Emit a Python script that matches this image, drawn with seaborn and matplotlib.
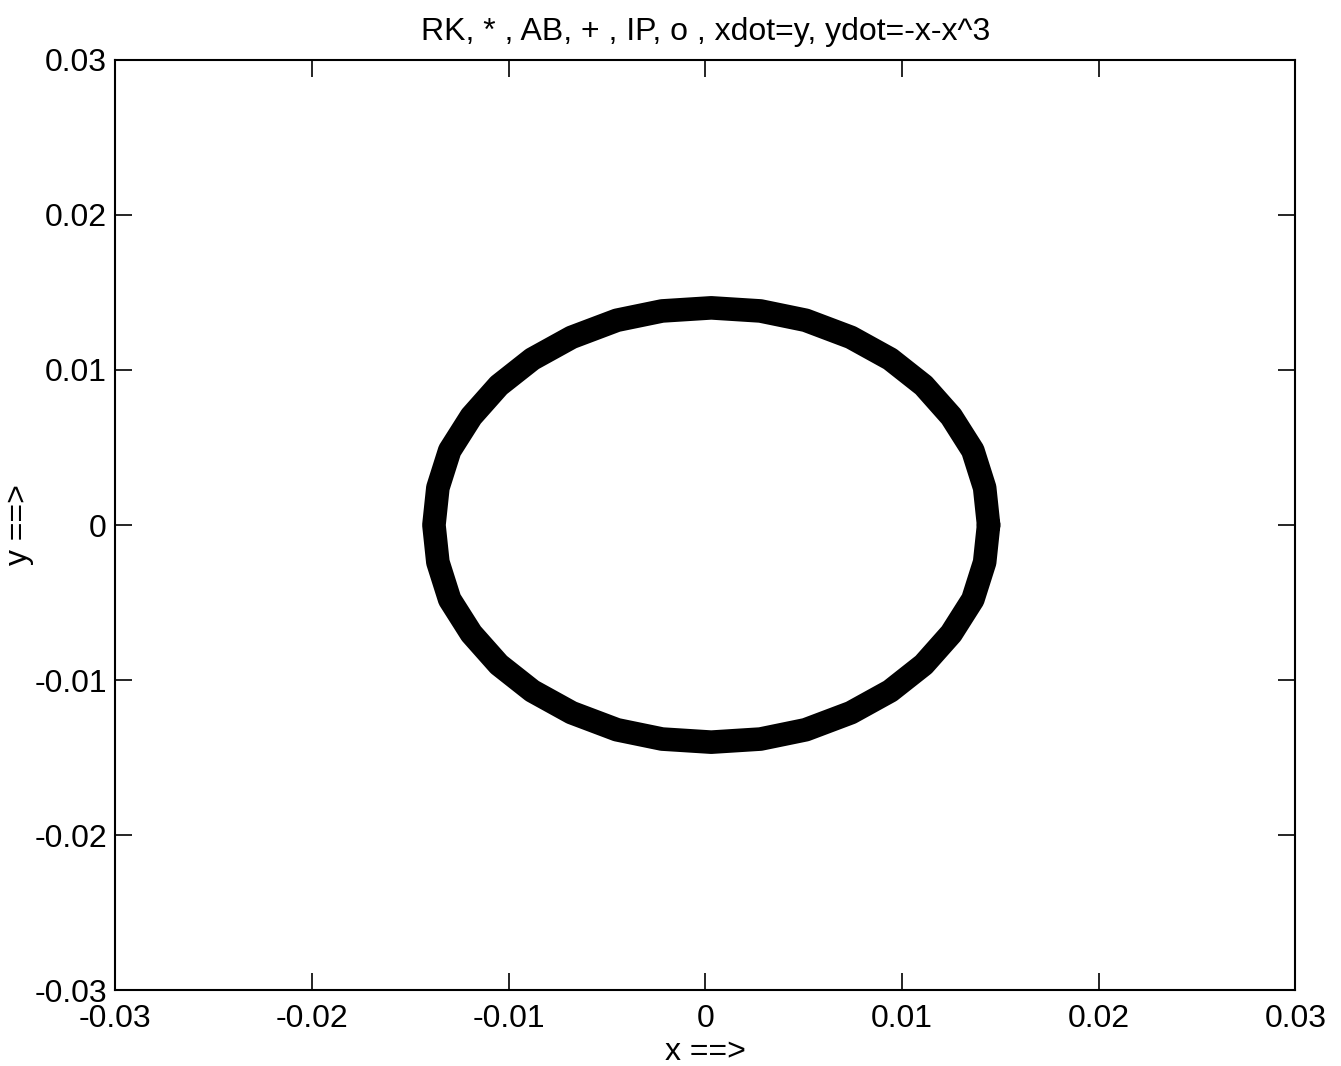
import numpy as np
import pandas as pd
import matplotlib
matplotlib.use('Agg')
import matplotlib.pyplot as plt
import seaborn as sns

# ---------- data (centre line of the thick orbit) ----------
orbit_x = [0.0144, 0.0142, 0.0136, 0.0125, 0.0111, 0.0094, 0.0074, 0.0051, 0.0028,
           0.0003, -0.0022, -0.0045, -0.0068, -0.0088, -0.0105, -0.0119, -0.0130, -0.0136,
           -0.0138, -0.0136, -0.0130, -0.0119, -0.0105, -0.0088, -0.0068, -0.0045, -0.0022,
           0.0003, 0.0028, 0.0051, 0.0074, 0.0094, 0.0111, 0.0125, 0.0136, 0.0142, 0.0144]
orbit_y = [0.0000, 0.0024, 0.0048, 0.0070, 0.0090, 0.0107, 0.0121, 0.0132, 0.0138,
           0.0140, 0.0138, 0.0132, 0.0121, 0.0107, 0.0090, 0.0070, 0.0048, 0.0024,
           0.0000, -0.0024, -0.0048, -0.0070, -0.0090, -0.0107, -0.0121, -0.0132, -0.0138,
           -0.0140, -0.0138, -0.0132, -0.0121, -0.0107, -0.0090, -0.0070, -0.0048, -0.0024, 0.0000]

tick_vals = [-0.03, -0.02, -0.01, 0, 0.01, 0.02, 0.03]
tick_labels = ['-0.03', '-0.02', '-0.01', '0', '0.01', '0.02', '0.03']

df = pd.DataFrame({'x': orbit_x, 'y': orbit_y})

# ---------- style ----------
sns.set_style('ticks')
plt.rcParams['font.family'] = ['Liberation Sans', 'DejaVu Sans']
plt.rcParams['axes.unicode_minus'] = False
plt.rcParams['text.color'] = 'black'
plt.rcParams['axes.labelcolor'] = 'black'

fig = plt.figure(figsize=(13.41, 10.66), dpi=100)
ax = fig.add_axes([0.086, 0.071, 0.880, 0.873])

sns.lineplot(data=df, x='x', y='y', sort=False, estimator=None, color='black',
             linewidth=17, solid_joinstyle='round', solid_capstyle='round', ax=ax)

ax.set_xlim(-0.03, 0.03)
ax.set_ylim(-0.03, 0.03)
ax.set_xticks(tick_vals)
ax.set_xticklabels(tick_labels)
ax.set_yticks(tick_vals)
ax.set_yticklabels(tick_labels)
ax.tick_params(direction='in', length=12, width=1.2, top=True, right=True,
               labelsize=23, colors='black')
ax.tick_params(axis='x', pad=10)
ax.tick_params(axis='y', pad=6)
for s in ax.spines.values():
    s.set_visible(True)
    s.set_linewidth(1.5)
    s.set_color('black')

ax.set_xlabel('x ==>', fontsize=23, labelpad=2)
ax.set_ylabel('y ==>', fontsize=23, labelpad=0)
ax.set_title('RK, * , AB, + , IP, o , xdot=y, ydot=-x-x^3', fontsize=23, pad=14, color='black')

fig.savefig('out.png', dpi=100)
